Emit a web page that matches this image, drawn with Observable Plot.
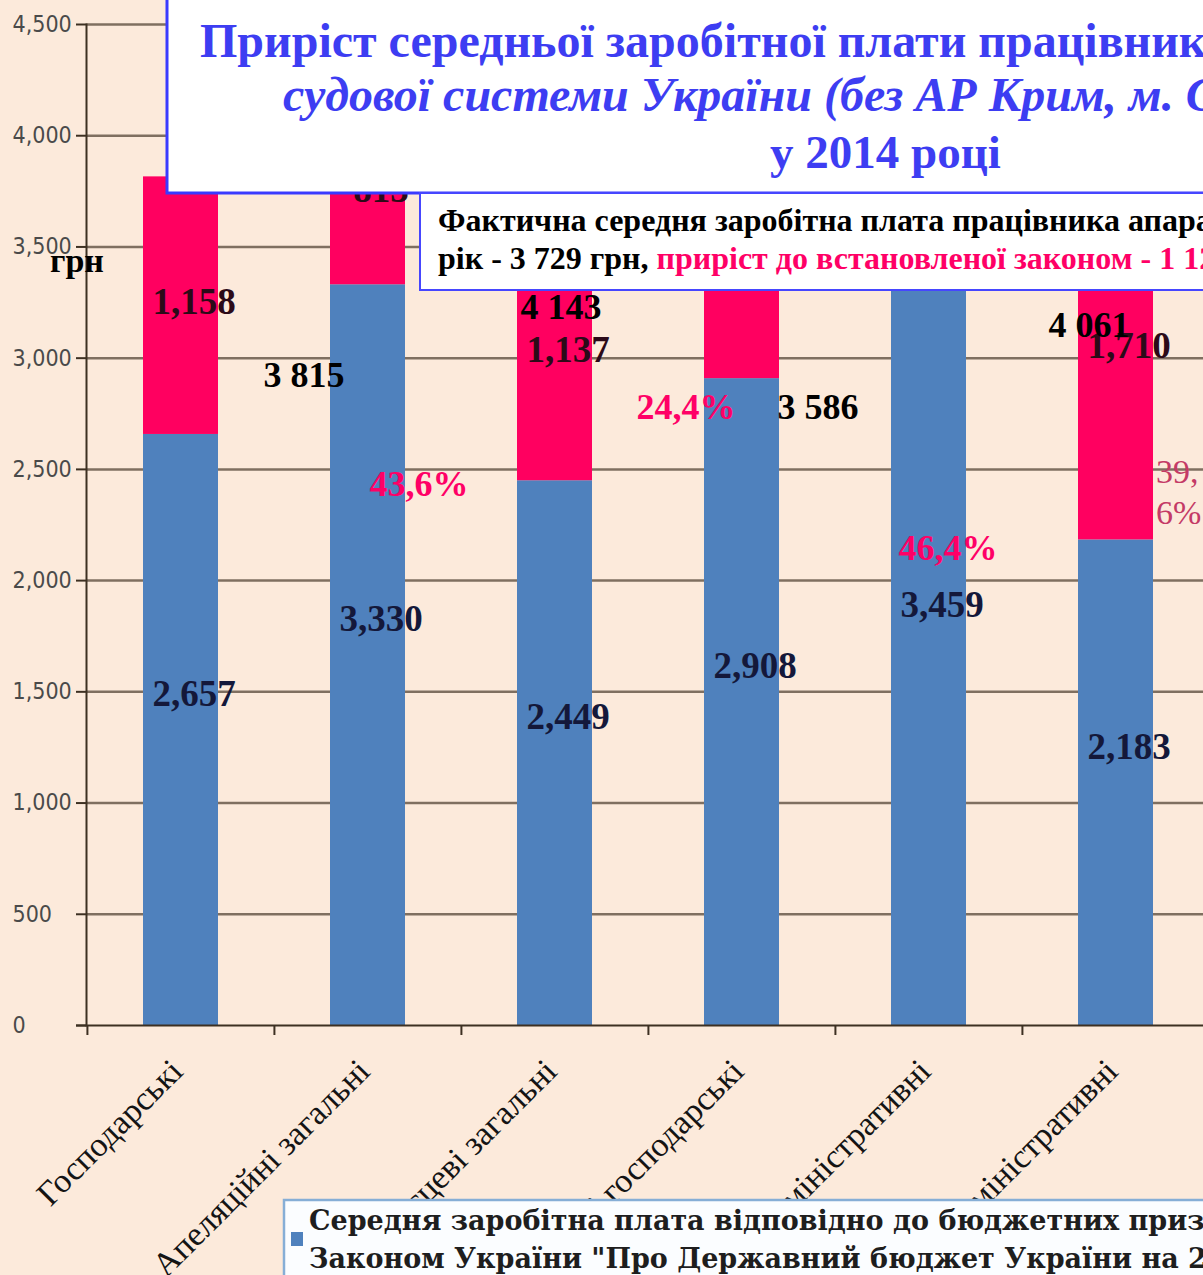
<!DOCTYPE html>
<html><head><meta charset="utf-8">
<script src="https://cdn.jsdelivr.net/npm/d3@7"></script>
<script src="https://cdn.jsdelivr.net/npm/@observablehq/plot@0.6"></script>
<style>
html,body{margin:0;padding:0;width:1203px;height:1275px;overflow:hidden;background:#FCEADB;}
#wrap{position:relative;width:1203px;height:1275px;overflow:hidden;}
#chart svg{display:block;}
#overlay{position:absolute;left:0;top:0;}
</style></head><body>
<div id="wrap"><div id="chart"></div>
<svg id="overlay" width="1203" height="1275" xmlns="http://www.w3.org/2000/svg">
  <rect x="167" y="-3" width="1200" height="196" fill="#ffffff" stroke="#3a3aff" stroke-width="3"/>
  <g font-family="'Liberation Serif', 'Times New Roman', serif" font-weight="bold" fill="#3d3df2">
    <text x="200" y="57" font-size="48">Приріст середньої заробітної плати працівників апарату</text>
    <text x="283" y="111" font-size="48" font-style="italic">судової системи України (без АР Крим, м. Севастополя</text>
    <text x="770" y="168" font-size="47">у 2014 році</text>
  </g>
  <rect x="420" y="193" width="900" height="97" fill="#ffffff" stroke="#4646ff" stroke-width="2"/>
  <g font-family="'Liberation Serif', 'Times New Roman', serif" font-weight="bold" font-size="32">
    <text x="438" y="231" fill="#000">Фактична середня заробітна плата працівника апарату</text>
    <text x="438" y="269" fill="#000">рік - 3 729 грн, <tspan fill="#ff0066">приріст до встановленої законом - 1 12</tspan></text>
  </g>
  <text x="50" y="272" font-family="'Liberation Serif', serif" font-weight="bold" font-size="34" fill="#000">грн</text>
  <rect x="284" y="1200" width="1000" height="100" fill="#fbfdff" stroke="#86aed6" stroke-width="2.5"/>
  <rect x="291" y="1232" width="12" height="14" fill="#4F81BD"/>
  <g font-family="'DejaVu Serif', serif" font-weight="bold" font-size="27" fill="#1e1e1e">
    <text x="309" y="1230">Середня заробітна плата відповідно до бюджетних призначень,</text>
    <text x="309" y="1268">Законом України "Про Державний бюджет України на 2014 рік"</text>
  </g>
</svg>
</div>
<script>
const categories = ["Господарські", "Апеляційні загальні", "Місцеві загальні", "Місцеві господарські", "Апеляційні адміністративні", "Місцеві адміністративні"];
const budgetSalary = [2657, 3330, 2449, 2908, 3459, 2183];
const increase = [1158, 813, 1137, 1153, 1150, 1710];
const yTicks = [0, 500, 1000, 1500, 2000, 2500, 3000, 3500, 4000, 4500];
const annotatedBars = [0, 1, 2, 3];

const W = 1203, H = 1275;
const mL = 86, mT = 24, mB = 250;
const xRange = [86, 1209];
const step = (xRange[1] - xRange[0]) / categories.length;

const ua = d3.formatLocale({decimal: ",", thousands: " ", grouping: [3], currency: ["", ""]});
const fmtComma = d3.format(",");
const fmtTotal = ua.format(",");
const fmtPct = ua.format(".1f");

const blueRows = categories.map((c, i) => ({cat: c, series: "budget", y1: 0, y2: budgetSalary[i], mid: budgetSalary[i] / 2, value: budgetSalary[i]}));
const redRows = categories.map((c, i) => ({cat: c, series: "increase", y1: budgetSalary[i], y2: budgetSalary[i] + increase[i], mid: budgetSalary[i] + increase[i] / 2, value: increase[i]}));

const totals = annotatedBars.map(i => ({cat: categories[i], y: budgetSalary[i] + increase[i], text: fmtTotal(budgetSalary[i] + increase[i])}));
const pcts = annotatedBars.map(i => ({cat: categories[i], y: budgetSalary[i] + increase[i], text: fmtPct(increase[i] / budgetSalary[i] * 100) + "%"}));

const totalOff = [[123, 199], [193, 204], [263, 180], [347, 203]];
const pctOff = [[238, 308], [318, 304], [393, 321]];

const serif = "'Liberation Serif', 'Times New Roman', serif";
const gridColor = "#7f6f60";
const axisColor = "#3d3022";

const marks = [
  Plot.ruleY(yTicks.filter(d => d > 0), {stroke: gridColor, strokeWidth: 2.5}),
  Plot.barY([...blueRows, ...redRows], {x: "cat", y1: "y1", y2: "y2", fill: "series"}),
  Plot.ruleY([0], {stroke: axisColor, strokeWidth: 2, insetLeft: -10}),
  Plot.frame({anchor: "left", stroke: axisColor, strokeWidth: 2}),
  Plot.axisY(yTicks, {tickSize: 10, tickPadding: 64, textAnchor: "start", tickFormat: fmtComma, fontSize: 23, fontFamily: "'DejaVu Sans Condensed', 'Liberation Sans Narrow', 'DejaVu Sans', sans-serif", fill: "#4a4a4a", stroke: axisColor, strokeWidth: 2, label: null}),
  Plot.axisX({tickSize: 10, tickFormat: () => "", dx: -step / 2, stroke: axisColor, strokeWidth: 2, label: null}),
  Plot.axisX({tickSize: 0, tickRotate: -45, tickPadding: 40, dx: -4, fontSize: 34, fontFamily: serif, fill: "#141414", label: null}),
  Plot.text(blueRows, {x: "cat", y: "mid", text: d => fmtComma(d.value), dx: 13, dy: -36, fontSize: 37, fontFamily: serif, fontWeight: "bold", fill: "#14183a"}),
  Plot.text(redRows, {x: "cat", y: "mid", text: d => fmtComma(d.value), dx: 13, dy: -4, fontSize: 37, fontFamily: serif, fontWeight: "bold", fill: "#2c0a18"}),
  ...totals.map((d, k) => Plot.text([d], {x: "cat", y: "y", text: "text", dx: totalOff[k][0], dy: totalOff[k][1], fontSize: 36, fontFamily: serif, fontWeight: "bold", fill: "#000"})),
  ...pcts.slice(0, 3).map((d, k) => Plot.text([d], {x: "cat", y: "y", text: "text", dx: pctOff[k][0], dy: pctOff[k][1], fontSize: 36, fontFamily: serif, fontWeight: "bold", fill: "#ff0066"})),
  Plot.text([pcts[3]], {x: "cat", y: "y", text: d => d.text.replace(",", ",\n"), dx: 414, dy: 368, textAnchor: "start", lineHeight: 1.2, fontSize: 34, fontFamily: serif, fill: "#c43a66"})
];

const chart = Plot.plot({
  width: W, height: H,
  marginLeft: mL, marginRight: 0, marginTop: mT, marginBottom: mB,
  style: {background: "#FCEADB", overflow: "hidden"},
  x: {domain: categories, range: xRange, paddingInner: 0.6, paddingOuter: 0.3, axis: null},
  y: {domain: [0, 4500], axis: null},
  color: {domain: ["budget", "increase"], range: ["#4F81BD", "#FF0060"]},
  marks
});
document.getElementById("chart").appendChild(chart);
</script>
</body></html>
